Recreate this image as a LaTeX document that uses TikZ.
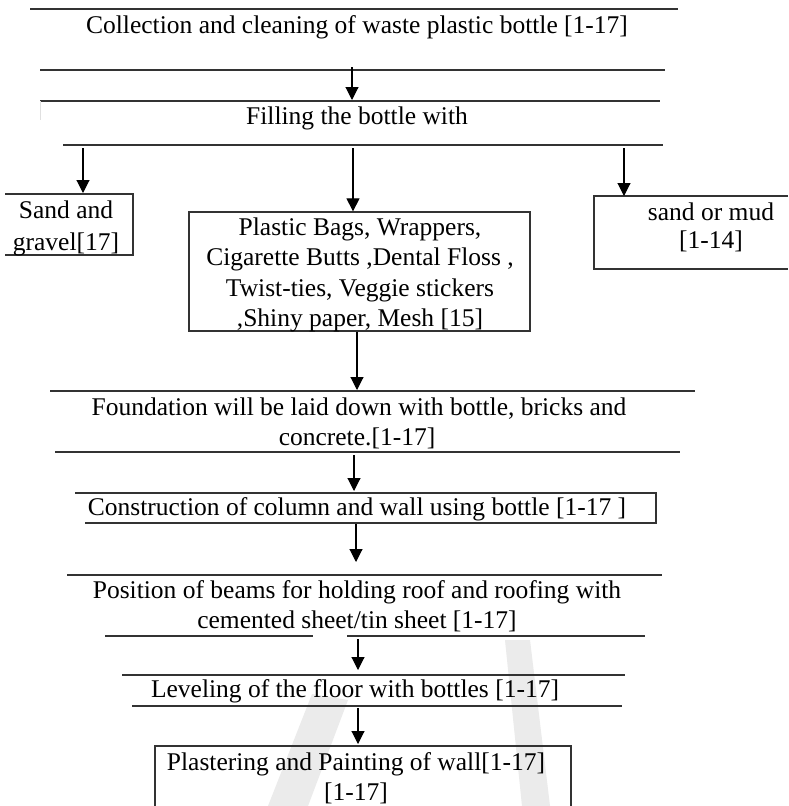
\documentclass[tikz,border=0pt]{standalone}
\usepackage{fontspec}
\setmainfont{Liberation Serif}
\usetikzlibrary{arrows.meta}
\newcommand\flowfs{\fontsize{25.5}{30}\selectfont}
\tikzset{
  rule/.style={draw=black!80, line width=1.3pt},
  boxline/.style={draw=black!80, line width=1.3pt},
  arr/.style={draw=black, line width=1.1pt, -{Triangle[length=13pt,width=13pt]}},
  txt/.style={font=\flowfs, inner sep=0pt, anchor=base},
  wmark/.style={fill=black!8, draw=none},
}
\begin{document}
\begin{tikzpicture}[x=1pt,y=-1pt]
\useasboundingbox (0,0) rectangle (788,806);
\fill[white] (0,0) rectangle (788,806);

% faint watermark
\fill[wmark] (268,806) -- (308,806) -- (348,700) -- (312,694) -- cycle;
\fill[wmark] (505,640) -- (530,640) -- (550,806) -- (522,806) -- cycle;

% step 1
\draw[rule] (30,9) -- (678,9);
\node[txt] (t1) at (357,33) {Collection and cleaning of waste plastic bottle [1-17]};
\draw[rule] (40,70) -- (665,70);
\coordinate (a1s) at (352,67);
\coordinate (a1e) at (352,100);
\draw[arr] (a1s) -- (a1e);

% step 2
\draw[rule] (40,101) -- (660,101);
\draw[draw=black!12, line width=1pt] (40,101) -- (40,120);
\node[txt] (t2) at (357,124) {Filling the bottle with};
\draw[rule] (63,145) -- (663,145);

% branches
\coordinate (bl) at (83,148);
\coordinate (bm) at (353,148);
\coordinate (br) at (624,148);
\coordinate (leftboxtop) at (83,193);
\coordinate (rightboxtop) at (624,196);

\draw[boxline] (5,194) -- (133,194) -- (133,255) -- (5,255);
\node[txt] (s1) at (66,218) {Sand and};
\node[txt] (s2) at (66,250) {gravel[17]};

\node[boxline, draw, minimum width=341pt, minimum height=119pt, inner sep=0pt] (mid) at (359.5,271.5) {};
\node[txt] (m1) at (360,235) {Plastic Bags, Wrappers,};
\node[txt] (m2) at (360,265) {Cigarette Butts ,Dental Floss ,};
\node[txt] (m3) at (360,296) {Twist-ties, Veggie stickers};
\node[txt] (m4) at (360,326) {,Shiny paper, Mesh [15]};

\draw[boxline] (788,196) -- (594,196) -- (594,269) -- (788,269);
\node[txt] (r1) at (711,220) {sand or mud};
\node[txt] (r2) at (711,248) {[1-14]};

\draw[arr] (bl) -- (leftboxtop);
\draw[arr] (bm) -- (mid.north -| bm);
\draw[arr] (br) -- (rightboxtop);

% step 3
\coordinate (fe) at (357,390);
\draw[arr] (mid.south -| fe) -- (fe);
\draw[rule] (50,391) -- (695,391);
\node[txt] (f1) at (359,415) {Foundation will be laid down with bottle, bricks and};
\node[txt] (f2) at (357,445) {concrete.[1-17]};
\draw[rule] (55,452) -- (680,452);
\coordinate (c0) at (354,455);
\coordinate (c1) at (354,491);
\draw[arr] (c0) -- (c1);

% step 4
\draw[boxline] (75,493) -- (656,493) -- (656,523) -- (85,523);
\node[txt] (c) at (357,515) {Construction of column and wall using bottle [1-17 ]};
\coordinate (p0) at (356,524);
\coordinate (p1) at (356,562);
\draw[arr] (p0) -- (p1);

% step 5
\draw[rule] (67,575) -- (662,575);
\node[txt] (p1t) at (357,598) {Position of beams for holding roof and roofing with};
\node[txt] (p2t) at (357,628) {cemented sheet/tin sheet [1-17]};
\draw[rule] (105,636) -- (313,636);
\draw[rule] (347,636) -- (645,636);
\coordinate (l0) at (358,639);
\coordinate (l1) at (358,670);
\draw[arr] (l0) -- (l1);

% step 6
\draw[rule] (122,675) -- (625,675);
\node[txt] (lv) at (355,697) {Leveling of the floor with bottles [1-17]};
\draw[rule] (132,706) -- (622,706);
\coordinate (q0) at (358,708);
\coordinate (q1) at (358,744);
\draw[arr] (q0) -- (q1);

% step 7
\draw[boxline] (155,810) -- (155,746) -- (571,746) -- (571,810);
\node[txt] (pl1) at (356,770) {Plastering and Painting of wall[1-17]};
\node[txt] (pl2) at (356,800) {[1-17]};
\end{tikzpicture}
\end{document}
